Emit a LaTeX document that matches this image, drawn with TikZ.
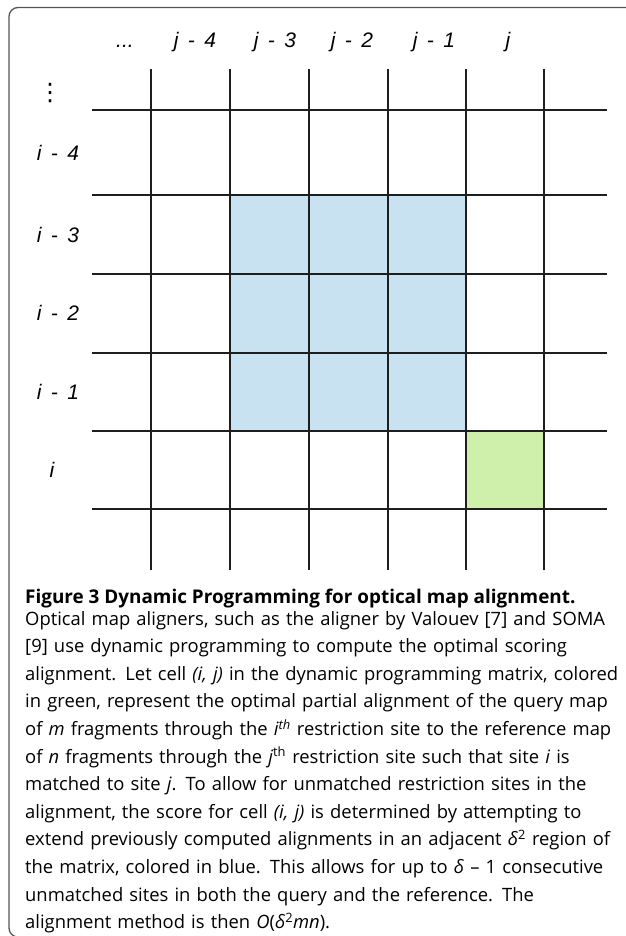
\documentclass[tikz,border=0pt]{standalone}
\usepackage{fontspec}
\setmainfont{Open Sans}
\newfontfamily\labelfont{Liberation Sans}
\newfontfamily\symfont{DejaVu Sans}
\usetikzlibrary{positioning}

\definecolor{gridline}{RGB}{30,30,30}
\definecolor{regionblue}{RGB}{200,226,242}
\definecolor{cellgreen}{RGB}{206,240,170}
\definecolor{framegray}{RGB}{85,85,85}
\newcommand{\dlt}{\textit{δ}}
\newcommand{\nl}{\\[1.1pt]}

\begin{document}
\begin{tikzpicture}[x=1pt, y=-1pt,
    lab/.style={font=\labelfont\itshape\fontsize{21}{21}\selectfont, text height=15pt, text depth=0pt, inner sep=0pt},
    gline/.style={gridline, line width=2.2pt},
    captext/.style={inner sep=0pt, font=\fontsize{18.4}{26.5}\selectfont}]
    \useasboundingbox (0,0) rectangle (625,936);

    % Frame
    \draw[framegray, line width=1.3pt, rounded corners=9pt] (640,7.5) -- (9,7.5) -- (9,937) -- (40,937);

    % Alignment region and current cell
    \fill[regionblue] (230,195) rectangle (466,431);
    \fill[cellgreen] (466,431) rectangle (544,509);

    % Matrix
    \foreach \y in {110,195,274,353,431,509}
        \draw[gline] (92,\y) -- (607,\y);
    \foreach \x in {151,230,309,388,466,544}
        \draw[gline] (\x,69) -- (\x,570);

    % Column labels
    \node[lab] (coldots) at (125,40) {...};
    \foreach \x/\k in {195/4,275/3,352/2,434/1}
        \node[lab] (col\k) at (\x,40) {j\hspace{0.45em}-\hspace{0.45em}\k};
    \node[lab] (colj) at (508,40) {j};

    % Row labels
    \node[inner sep=0pt, font=\symfont\fontsize{24}{24}\selectfont] (rowdots) at (50,93) {⋮};
    \foreach \y/\k in {153/4,235/3,313/2,392/1}
        \node[lab] (row\k) at (58,\y) {i\hspace{0.45em}-\hspace{0.45em}\k};
    \node[lab] (rowi) at (52,470) {i};

    % Caption
    \node[captext, anchor=base west, font=\bfseries\fontsize{18.9}{26.5}\selectfont] (title) at (25,603)
        {Figure 3 Dynamic Programming for optical map alignment.};
    \node[captext, anchor=north west, align=left, text width=600pt] (caption) at (25,611)
        {Optical map aligners, such as the aligner by Valouev [7] and SOMA\nl
         {[9]} use dynamic programming to compute the optimal scoring\nl
         alignment. Let cell \textit{(i, j)} in the dynamic programming matrix, colored\nl
         in green, represent the optimal partial alignment of the query map\nl
         of \textit{m} fragments through the \textit{i}\textsuperscript{\textit{th}} restriction site to the reference map\nl
         of \textit{n} fragments through the \textit{j}\textsuperscript{th} restriction site such that site \textit{i} is\nl
         matched to site \textit{j}. To allow for unmatched restriction sites in the\nl
         alignment, the score for cell \textit{(i, j)} is determined by attempting to\nl
         extend previously computed alignments in an adjacent \dlt\textsuperscript{2} region of\nl
         the matrix, colored in blue. This allows for up to \dlt\ – 1 consecutive\nl
         unmatched sites in both the query and the reference. The\nl
         alignment method is then \textit{O}(\dlt\textsuperscript{2}\textit{mn}).};
\end{tikzpicture}
\end{document}
